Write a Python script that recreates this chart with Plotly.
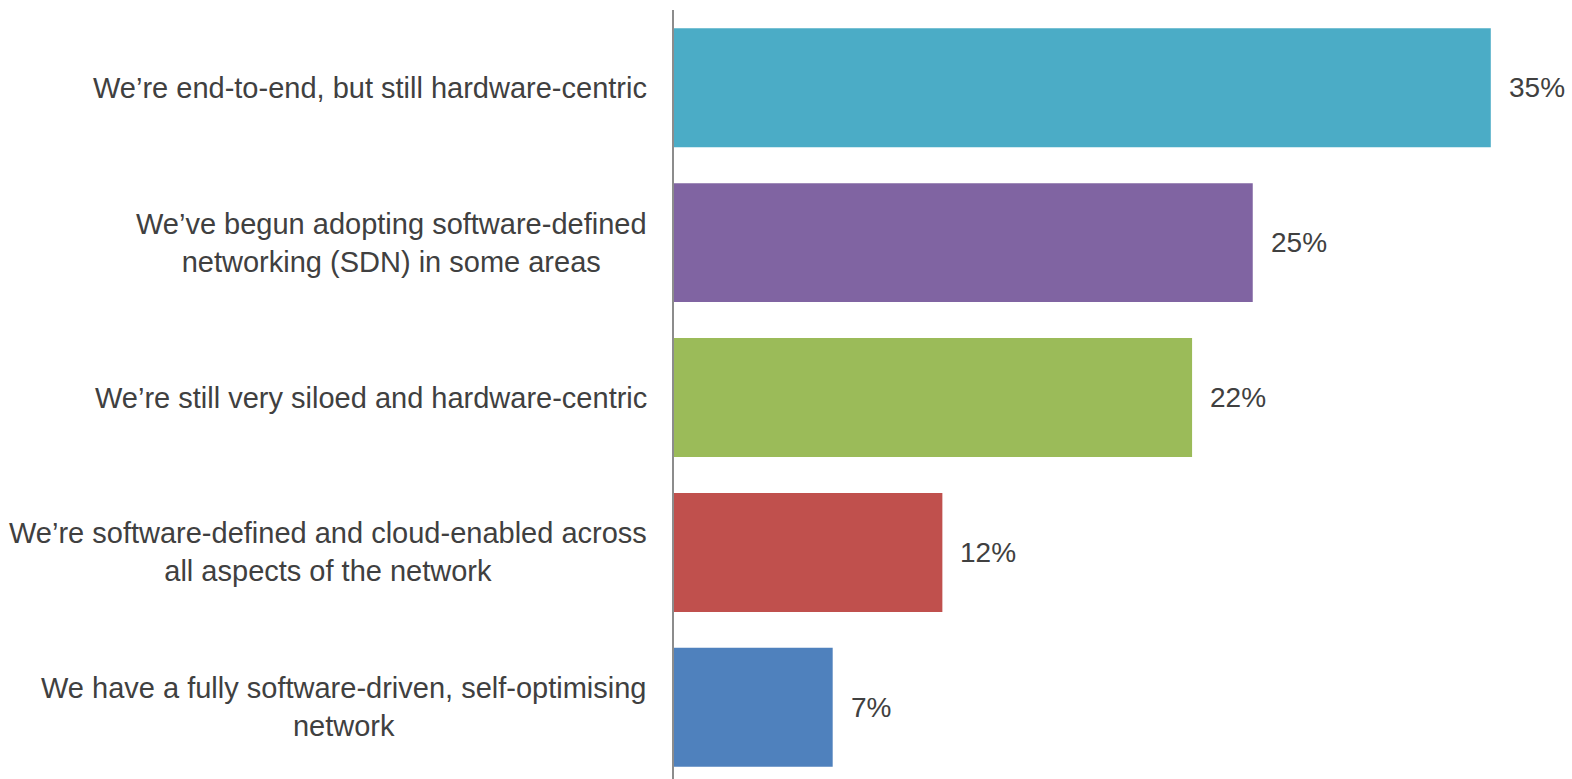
import plotly.graph_objects as go

categories = [
    "We’re end-to-end, but still hardware-centric",
    "We’ve begun adopting software-defined<br>networking (SDN) in some areas",
    "We’re still very siloed and hardware-centric",
    "We’re software-defined and cloud-enabled across<br>all aspects of the network",
    "We have a fully software-driven, self-optimising<br>network",
]
values = [35, 24.8, 22.2, 11.5, 6.8]
value_labels = ["35%", "25%", "22%", "12%", "7%"]
colors = ["#4BACC6", "#8064A2", "#9BBB59", "#C0504D", "#4F81BD"]

FONT = "Liberation Sans, Arial, sans-serif"
TXT = "#404040"

fig = go.Figure(
    go.Bar(
        x=values,
        y=categories,
        orientation="h",
        marker=dict(color=colors, line=dict(width=0)),
        hoverinfo="skip",
    )
)

annotations = []
for cat, v, lab in zip(categories, values, value_labels):
    annotations.append(dict(
        x=0, xref="paper", y=cat, yref="y", text=cat, showarrow=False,
        xanchor="right", yanchor="middle", align="center", xshift=-25,
        font=dict(family=FONT, size=29, color=TXT),
    ))
    annotations.append(dict(
        x=v, xref="x", y=cat, yref="y", text=lab, showarrow=False,
        xanchor="left", yanchor="middle", xshift=16,
        font=dict(family=FONT, size=28, color=TXT),
    ))

fig.update_layout(
    width=1572, height=779,
    margin=dict(l=674, r=0, t=10, b=0, pad=0),
    plot_bgcolor="white", paper_bgcolor="white",
    bargap=0.232,
    showlegend=False,
    annotations=annotations,
    xaxis=dict(range=[0, 38.48], showgrid=False, zeroline=False,
               showticklabels=False, showline=False, ticks=""),
    yaxis=dict(type="category", categoryorder="array", categoryarray=categories,
               range=[4.463, -0.502], showgrid=False, zeroline=False,
               showticklabels=False, ticks="", showline=True,
               linecolor="#8c8c8c", linewidth=2),
)

fig.write_html("out.html")
